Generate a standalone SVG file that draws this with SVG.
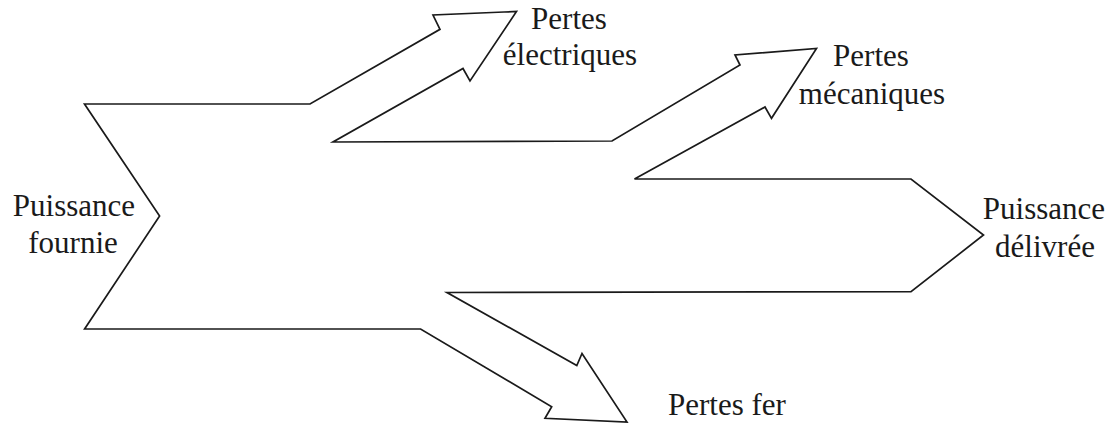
<svg xmlns="http://www.w3.org/2000/svg" width="1114" height="423" viewBox="0 0 1114 423">
  <style>
    .flow { fill: #ffffff; stroke: #1a1a1a; stroke-width: 1.7; stroke-linejoin: miter; }
    text { font-family: 'Liberation Serif', 'DejaVu Serif', serif; font-size: 31px; fill: #1a1a1a; }
  </style>
  <rect width="1114" height="423" fill="#ffffff"/>
  <g id="flow-outline">
    <polygon class="flow" points="84.5,104 310,104 440,29.3 433,15 516.5,11.5 470,81 463,68.5 333,142 612,141 740,65 735,55 816.5,48.5 771.5,118.3 765,107 634.5,179 911,179 983.5,235 911,291.7 447,292.5 576.8,365.5 582,353.5 627,422 545,418.3 551.7,406.7 420.6,329 84.6,329 159.6,216"/>
  </g>
  <g id="label-puissance-fournie" font-family="Liberation Serif, DejaVu Serif, serif" text-anchor="middle">
    <text x="74" y="216">Puissance</text>
    <text x="73" y="253">fournie</text>
  </g>
  <g id="label-pertes-electriques" font-family="Liberation Serif, DejaVu Serif, serif" text-anchor="middle">
    <text x="569" y="29">Pertes</text>
    <text x="570" y="65">électriques</text>
  </g>
  <g id="label-pertes-mecaniques" font-family="Liberation Serif, DejaVu Serif, serif" text-anchor="middle">
    <text x="871" y="66">Pertes</text>
    <text x="872" y="104">mécaniques</text>
  </g>
  <g id="label-puissance-delivree" font-family="Liberation Serif, DejaVu Serif, serif" text-anchor="middle">
    <text x="1044" y="219">Puissance</text>
    <text x="1045" y="257">délivrée</text>
  </g>
  <g id="label-pertes-fer" font-family="Liberation Serif, DejaVu Serif, serif" text-anchor="start">
    <text x="668" y="415">Pertes fer</text>
  </g>
</svg>
